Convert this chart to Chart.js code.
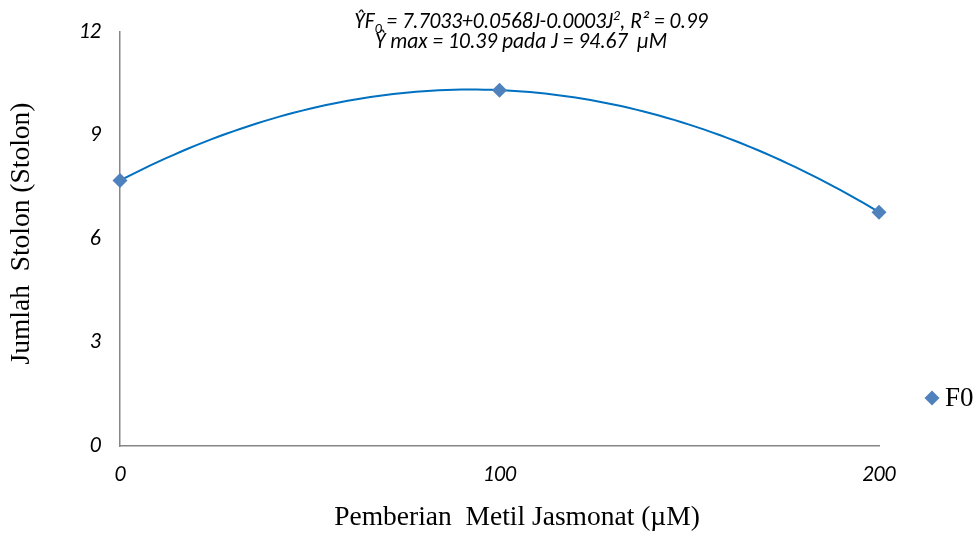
<!DOCTYPE html>
<html>
<head>
<meta charset="utf-8">
<script src="https://cdn.jsdelivr.net/npm/chart.js@4/dist/chart.umd.min.js"></script>
<style>
  html, body { margin: 0; padding: 0; background: #ffffff; }
  #wrap { width: 977px; height: 536px; position: relative; }
</style>
</head>
<body>
<div id="wrap"><canvas id="c" width="977" height="536"></canvas></div>
<script>
// Methyl jasmonate dose (µM) and mean stolon count for F0
const doses = [0, 100, 200];
const stolonF0 = [7.70, 10.32, 6.78];
const seriesName = 'F0';

// Axis ticks
const xTicks = [0, 100, 200];
const yTicks = [0, 3, 6, 9, 12];

// Axis titles
const xTitle = 'Pemberian  Metil Jasmonat (µM)';
const yTitle = 'Jumlah  Stolon (Stolon)';

// Regression caption, as text runs (sub = subscript, sup = superscript)
const equationLine1 = [
  { t: 'ŶF' }, { t: '0', sub: true }, { t: ' = 7.7033+0.0568J-0.0003J' },
  { t: '2', sup: true }, { t: ', R² = 0.99' }
];
const equationLine2 = [{ t: 'Ŷ max = 10.39 pada J = 94.67  µM' }];

const sansFamily = '"Carlito", "Lato", "Open Sans", sans-serif';
const serifFamily = '"Liberation Serif", "Times New Roman", serif';

// Least-squares quadratic trendline y = a + b x + c x^2
function quadFit(x, y) {
  const S = [0, 0, 0, 0, 0], T = [0, 0, 0];
  for (let i = 0; i < x.length; i++) {
    for (let k = 0; k < 5; k++) S[k] += Math.pow(x[i], k);
    for (let k = 0; k < 3; k++) T[k] += y[i] * Math.pow(x[i], k);
  }
  const M = [
    [S[0], S[1], S[2], T[0]],
    [S[1], S[2], S[3], T[1]],
    [S[2], S[3], S[4], T[2]]
  ];
  for (let col = 0; col < 3; col++) {
    let piv = col;
    for (let r = col + 1; r < 3; r++) if (Math.abs(M[r][col]) > Math.abs(M[piv][col])) piv = r;
    [M[col], M[piv]] = [M[piv], M[col]];
    for (let r = 0; r < 3; r++) {
      if (r === col) continue;
      const f = M[r][col] / M[col][col];
      for (let k = col; k < 4; k++) M[r][k] -= f * M[col][k];
    }
  }
  return [M[0][3] / M[0][0], M[1][3] / M[1][1], M[2][3] / M[2][2]];
}

const [qa, qb, qc] = quadFit(doses, stolonF0);
const xMin = Math.min(...doses), xMax = Math.max(...doses);
const trend = [];
for (let j = 0; j <= 100; j++) {
  const x = xMin + (xMax - xMin) * j / 100;
  trend.push({ x, y: qa + qb * x + qc * x * x });
}

function drawRuns(ctx, runs, cx, baseline, size) {
  const base = 'italic ' + size + 'px ' + sansFamily;
  const small = 'italic ' + Math.round(size * 0.66) + 'px ' + sansFamily;
  let total = 0;
  runs.forEach(r => { ctx.font = (r.sub || r.sup) ? small : base; total += ctx.measureText(r.t).width; });
  let x = cx - total / 2;
  ctx.textAlign = 'left';
  ctx.textBaseline = 'alphabetic';
  runs.forEach(r => {
    ctx.font = (r.sub || r.sup) ? small : base;
    let y = baseline;
    if (r.sub) y += size * 0.22;
    if (r.sup) y -= size * 0.38;
    ctx.fillText(r.t, x, y);
    x += ctx.measureText(r.t).width;
  });
}

const captionTitlesLegend = {
  id: 'captionTitlesLegend',
  afterDraw(chart) {
    const ctx = chart.ctx;
    ctx.save();
    ctx.fillStyle = '#000000';
    drawRuns(ctx, equationLine1, 531, 28, 21.5);
    drawRuns(ctx, equationLine2, 521, 47.5, 21.5);

    // axis titles
    ctx.font = '27.5px ' + serifFamily;
    ctx.textAlign = 'center';
    ctx.textBaseline = 'middle';
    ctx.fillText(xTitle, 517, 518);
    ctx.save();
    ctx.translate(22, 233.5);
    ctx.rotate(-Math.PI / 2);
    ctx.fillText(yTitle, 0, 0);
    ctx.restore();

    // legend entry
    const ds = chart.data.datasets[0];
    const mx = 932, my = 398, r = 7.5;
    ctx.fillStyle = ds.backgroundColor;
    ctx.beginPath();
    ctx.moveTo(mx - r, my);
    ctx.lineTo(mx, my - r);
    ctx.lineTo(mx + r, my);
    ctx.lineTo(mx, my + r);
    ctx.closePath();
    ctx.fill();
    ctx.fillStyle = '#000000';
    ctx.font = '27px ' + serifFamily;
    ctx.textAlign = 'left';
    ctx.textBaseline = 'middle';
    ctx.fillText(ds.label, 945, 399);
    ctx.restore();
  }
};

new Chart(document.getElementById('c').getContext('2d'), {
  type: 'scatter',
  data: {
    datasets: [
      {
        label: seriesName,
        data: doses.map((x, i) => ({ x, y: stolonF0[i] })),
        pointStyle: 'rectRot',
        pointRadius: 7.5,
        pointHoverRadius: 7.5,
        backgroundColor: '#4F81BD',
        borderColor: '#4F81BD',
        borderWidth: 0,
        showLine: false,
        clip: false,
        order: 0
      },
      {
        label: 'trend',
        data: trend,
        showLine: true,
        pointRadius: 0,
        borderColor: '#0070C0',
        borderWidth: 2,
        fill: false,
        tension: 0,
        clip: false,
        order: 1
      }
    ]
  },
  options: {
    responsive: false,
    animation: false,
    events: [],
    layout: { padding: { top: 28, right: 98, bottom: 0, left: 0 } },
    plugins: { legend: { display: false }, tooltip: { enabled: false } },
    scales: {
      x: {
        type: 'linear',
        min: 0,
        max: 200,
        afterBuildTicks: s => { s.ticks = xTicks.map(v => ({ value: v })); },
        afterFit: s => { s.height = 90; },
        grid: { display: false, drawTicks: false },
        border: { display: true, color: '#868686', width: 1.5 },
        ticks: {
          padding: 16,
          color: '#000000',
          maxRotation: 0,
          font: { family: sansFamily, size: 22, style: 'italic' }
        }
      },
      y: {
        type: 'linear',
        min: 0,
        max: 12,
        afterBuildTicks: s => { s.ticks = yTicks.map(v => ({ value: v })); },
        afterFit: s => { s.width = 120; },
        grid: { display: false, drawTicks: false },
        border: { display: true, color: '#868686', width: 1.5 },
        ticks: {
          padding: 19,
          color: '#000000',
          font: { family: sansFamily, size: 22, style: 'italic' }
        }
      }
    }
  },
  plugins: [captionTitlesLegend]
});
</script>
</body>
</html>
